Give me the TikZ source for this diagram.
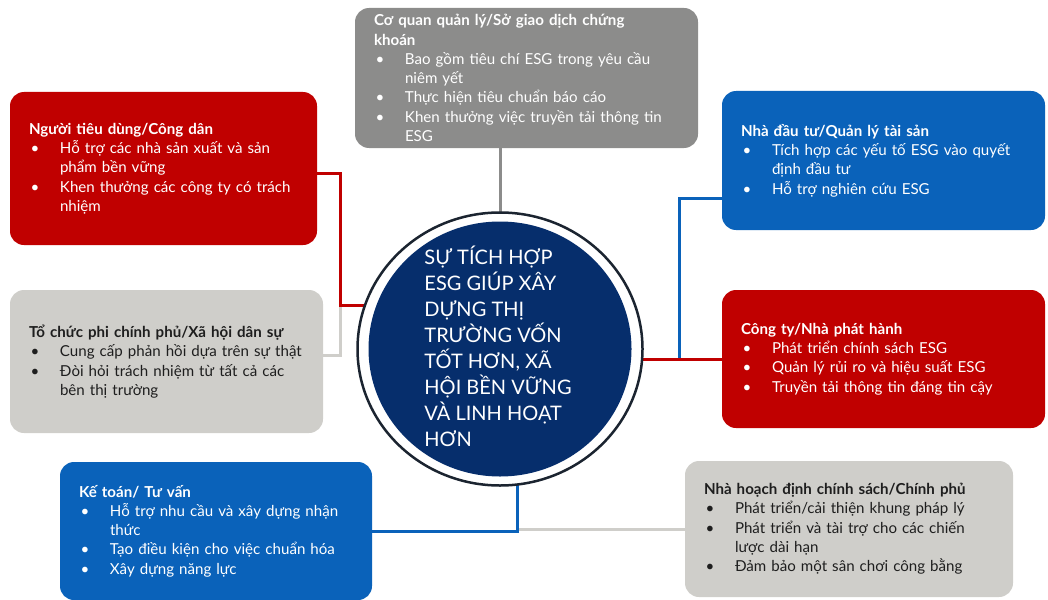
\documentclass[tikz,border=0pt]{standalone}
\usepackage{fontspec}
\setmainfont{Lato}
\usetikzlibrary{shapes.geometric,backgrounds}
\definecolor{esgred}{HTML}{C00000}
\definecolor{esgblue}{HTML}{0A62BA}
\definecolor{esgdark}{HTML}{8C8C8B}
\definecolor{esglight}{HTML}{CFCECA}
\definecolor{esgnavy}{HTML}{062E6C}
\definecolor{esgink}{HTML}{1E1E1E}
\definecolor{esgrim}{HTML}{1B2430}
\newcommand{\itm}[1]{\par\noindent\hangindent=31pt\hangafter=1\makebox[31pt][l]{\hspace{1.5pt}•}#1\par}
\tikzset{
	box/.style={rounded corners=14pt, inner xsep=19pt, inner ysep=0pt, align=left,
		font=\fontsize{15.1}{19.3}\selectfont},
	link/.style={line width=3pt},
}
\begin{document}
\begin{tikzpicture}[x=1pt,y=-1pt]
	\useasboundingbox (0,0) rectangle (1048,599);

	\node[box, fill=esgdark, text=white, minimum width=343pt, minimum height=140pt, text width=305pt] (reg) at (526.5,78) {\textbf{Cơ quan quản lý/Sở giao dịch chứng\newline khoán}
		\itm{Bao gồm tiêu chí ESG trong yêu cầu\newline niêm yết}
		\itm{Thực hiện tiêu chuẩn báo cáo}
		\itm{Khen thưởng việc truyền tải thông tin\newline ESG}};
	\node[box, fill=esgred, text=white, minimum width=307pt, minimum height=153pt, text width=269pt] (cons) at (163.5,168.5) {\textbf{Người tiêu dùng/Công dân}
		\itm{Hỗ trợ các nhà sản xuất và sản\newline phẩm bền vững}
		\itm{Khen thưởng các công ty có trách\newline nhiệm}};
	\node[box, fill=esglight, text=esgink, minimum width=313pt, minimum height=143pt, text width=275pt] (ngo) at (166.5,361.5) {\textbf{Tổ chức phi chính phủ/Xã hội dân sự}
		\itm{Cung cấp phản hồi dựa trên sự thật}
		\itm{Đòi hỏi trách nhiệm từ tất cả các\newline bên thị trường}};
	\node[box, fill=esgblue, text=white, minimum width=323pt, minimum height=139pt, text width=285pt] (inv) at (883.5,160.5) {\textbf{Nhà đầu tư/Quản lý tài sản}
		\itm{Tích hợp các yếu tố ESG vào quyết\newline định đầu tư}
		\itm{Hỗ trợ nghiên cứu ESG}};
	\node[box, fill=esgred, text=white, minimum width=323pt, minimum height=138pt, text width=285pt] (iss) at (883.5,359) {\textbf{Công ty/Nhà phát hành}
		\itm{Phát triển chính sách ESG}
		\itm{Quản lý rủi ro và hiệu suất ESG}
		\itm{Truyền tải thông tin đáng tin cậy}};
	\node[box, fill=esgblue, text=white, minimum width=312pt, minimum height=138pt, text width=274pt] (acc) at (216,531) {\textbf{Kế toán/ Tư vấn}
		\itm{Hỗ trợ nhu cầu và xây dựng nhận\newline thức}
		\itm{Tạo điều kiện cho việc chuẩn hóa}
		\itm{Xây dựng năng lực}};
	\node[box, fill=esglight, text=esgink, minimum width=328pt, minimum height=136pt, text width=290pt] (pol) at (849,529) {\textbf{Nhà hoạch định chính sách/Chính phủ}
		\itm{Phát triển/cải thiện khung pháp lý}
		\itm{Phát triển và tài trợ cho các chiến\newline lược dài hạn}
		\itm{Đảm bảo một sân chơi công bằng}};

	\node[ellipse, draw=esgrim, line width=2.5pt, fill=white, minimum width=285pt, minimum height=273pt, inner sep=0pt] (ring) at (500,349) {};
	\node[ellipse, fill=esgnavy, minimum width=263pt, minimum height=255pt, inner sep=0pt] (hub) at (ring.center) {};
	\node[text=white, align=left, font=\fontsize{20}{26}\selectfont] (msg) at ([xshift=-2pt,yshift=2.5pt]hub.center) {SỰ TÍCH HỢP\\ESG GIÚP XÂY\\DỰNG THỊ\\TRƯỜNG VỐN\\TỐT HƠN, XÃ\\HỘI BỀN VỮNG\\VÀ LINH HOẠT\\HƠN};

	\coordinate (jl) at (340,305);
	\coordinate (jr) at (679,359);
	\coordinate (jb) at (517,349);
	\begin{scope}[on background layer]
		\draw[link, esglight] ([yshift=6.5pt]ngo.east) -| (jl);
		\draw[link, esgred] ([yshift=-4.5pt]cons.east) -| (jl) -- (jl -| ring.center);
		\draw[link, esgdark] (reg.south -| ring.center) -- (ring.center);
		\draw[link, esgblue] ([yshift=-37.5pt]inv.west) -| (jr);
		\draw[link, esgred] (iss.west) -- (iss.west -| ring.center);
		\draw[link, esglight] (pol.west) -- (pol.west -| jb);
		\draw[link, esgblue] (acc.east) -| (jb);
	\end{scope}
\end{tikzpicture}
\end{document}
